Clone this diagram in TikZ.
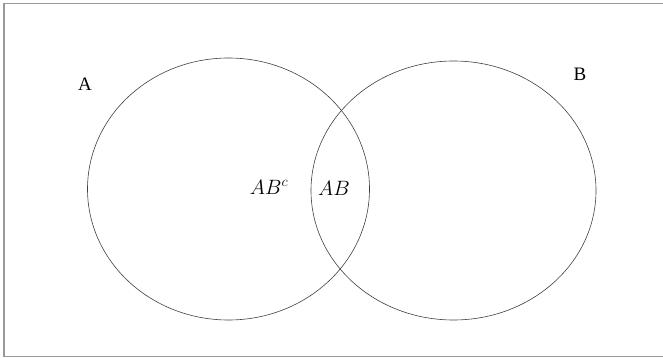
\documentclass[tikz,border=0pt]{standalone}
\usepackage{fontspec}
\setmainfont{Liberation Serif}
\begin{document}
\begin{tikzpicture}[x=1pt,y=-1pt,
  frame/.style={draw=black!40,line width=1.2pt},
  setc/.style={draw=black!75,line width=0.6pt},
  lbl/.style={font=\fontsize{19}{22}\selectfont,inner sep=0pt},
  mlbl/.style={font=\fontsize{22}{26}\selectfont,inner sep=0pt}]
\useasboundingbox (0,0) rectangle (663,358);
\draw[frame] (670,3.5) -- (4,3.5) -- (4,356.5) -- (670,356.5);
\draw[setc] (228.5,189) ellipse [x radius=141, y radius=131];
\draw[setc] (453.5,190.5) ellipse [x radius=142.5, y radius=129.5];
\node[lbl] (a) at (85,84) {A};
\node[lbl] (b) at (580,74) {B};
\node[mlbl] (abc) at (269,187) {$AB^{c}$};
\node[mlbl] (ab) at (334,188) {$AB$};
\end{tikzpicture}
\end{document}
